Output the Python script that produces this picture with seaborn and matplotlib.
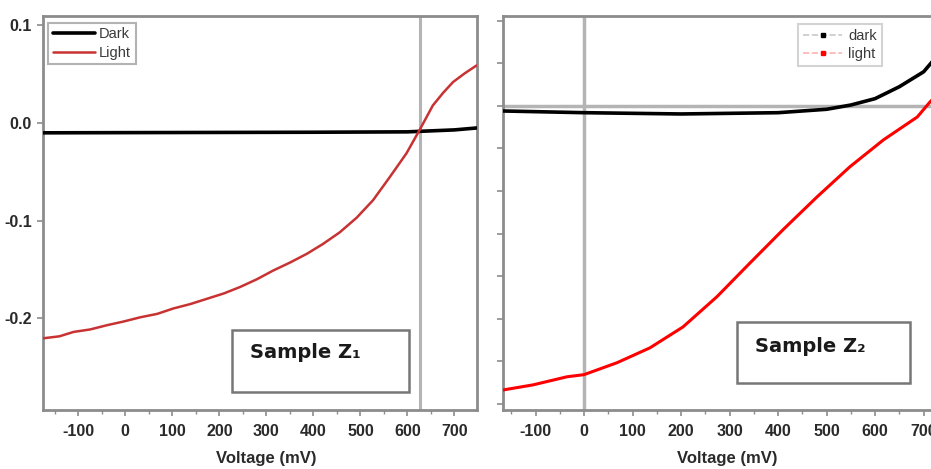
import matplotlib
matplotlib.use("Agg")
import matplotlib.pyplot as plt
from matplotlib.lines import Line2D
from matplotlib.patches import Rectangle
from matplotlib.ticker import MultipleLocator
import seaborn as sns
import pandas as pd

sns.set_style("white")
plt.rcParams['font.family'] = ['Liberation Sans', 'DejaVu Sans']
plt.rcParams['axes.unicode_minus'] = False

# ---- Sample Z1 (left panel) ----
z1_dark_v = [-175, 0, 200, 400, 600, 700, 748]
z1_dark_i = [-0.010, -0.0098, -0.0096, -0.0094, -0.009, -0.007, -0.005]
z1_light_v = [-174, -140, -110, -75, -38, -5, 32, 68, 102, 138, 174, 210, 244, 280,
              315, 350, 386, 420, 456, 492, 527, 563, 598, 626, 654, 676, 697, 722, 747]
z1_light_i = [-0.2205, -0.2185, -0.214, -0.2115, -0.207, -0.2035, -0.199, -0.1955, -0.190,
              -0.1855, -0.180, -0.1745, -0.168, -0.160, -0.151, -0.143, -0.134, -0.124,
              -0.112, -0.097, -0.079, -0.055, -0.031, -0.007, 0.018, 0.031, 0.042, 0.051, 0.059]
z1_voc = 626

# ---- Sample Z2 (right panel, unlabelled current axis) ----
z2_dark_v = [-167, 0, 200, 400, 500, 550, 600, 650, 700, 715, 740]
z2_dark_i = [-0.12, -0.16, -0.19, -0.16, -0.08, 0.02, 0.17, 0.45, 0.80, 1.00, 1.35]
z2_light_v = [-167, -105, -35, 0, 68, 136, 204, 274, 342, 410, 480, 548, 617, 687, 713, 740]
z2_light_i = [-6.67, -6.55, -6.36, -6.31, -6.03, -5.68, -5.19, -4.48, -3.69, -2.91,
              -2.14, -1.43, -0.80, -0.26, 0.09, 0.40]

x_ticks = [-100, 0, 100, 200, 300, 400, 500, 600, 700]
z1_yticks = [0.1, 0.0, -0.1, -0.2]
z1_ytick_labels = ["0.1", "0.0", "-0.1", "-0.2"]
z2_yticks = [-7, -6, -5, -4, -3, -2, -1, 0, 1, 2]

W, H = 931, 469
fig = plt.figure(figsize=(W / 100, H / 100), dpi=100)
ax1 = fig.add_axes([43 / W, (H - 410) / H, 434 / W, 394 / H])
ax2 = fig.add_axes([503 / W, (H - 410) / H, 457 / W, 394 / H])

spine_col = "#8c8c8c"
grid_col = "#b4b4b4"
tick_kw = dict(labelsize=11.5, colors=spine_col, labelcolor="#2a2a2a", direction="out")

# left panel
d1 = pd.DataFrame({"v": z1_dark_v, "i": z1_dark_i})
l1 = pd.DataFrame({"v": z1_light_v, "i": z1_light_i})
ax1.axvline(z1_voc, color=grid_col, lw=2.2, zorder=1)
sns.lineplot(data=d1, x="v", y="i", ax=ax1, color="black", lw=2.6, label="Dark", zorder=3)
sns.lineplot(data=l1, x="v", y="i", ax=ax1, color="#c83232", lw=1.8, label="Light", zorder=3)
ax1.set_xlim(-175, 748)
ax1.set_ylim(-0.294, 0.1097)
ax1.set_xticks(x_ticks)
ax1.xaxis.set_minor_locator(MultipleLocator(50))
ax1.set_yticks(z1_yticks)
ax1.set_yticklabels(z1_ytick_labels)
ax1.set_xlabel("Voltage (mV)", fontsize=12, fontweight="bold", color="#2a2a2a")
ax1.xaxis.set_label_coords(0.514, -0.104)
ax1.set_ylabel("")
leg1 = ax1.legend(loc="upper left", bbox_to_anchor=(0.012, 0.982), fontsize=10.5,
                  frameon=True, fancybox=False, edgecolor="#a0a0a0", handlelength=2.9,
                  borderpad=0.3, labelspacing=0.3, handletextpad=0.3, borderaxespad=0)
leg1.get_frame().set_linewidth(1.5)
for t in leg1.get_texts():
    t.set_color("#3a3a3a")
ax1.add_patch(Rectangle((0.435, 0.046), 0.408, 0.157, transform=ax1.transAxes,
                        fill=True, facecolor="white", edgecolor="#777777", lw=1.8, zorder=4))
ax1.text(0.477, 0.147, "Sample Z\u2081", transform=ax1.transAxes, fontsize=14,
         fontweight="bold", color="#1a1a1a", va="center", ha="left", zorder=5,
         family=["DejaVu Sans"])

# right panel
d2 = pd.DataFrame({"v": z2_dark_v, "i": z2_dark_i})
l2 = pd.DataFrame({"v": z2_light_v, "i": z2_light_i})
ax2.axvline(0, color=grid_col, lw=2.5, zorder=1)
ax2.axhline(0, color=grid_col, lw=2.5, zorder=1)
sns.lineplot(data=d2, x="v", y="i", ax=ax2, color="black", lw=2.6, legend=False, zorder=3)
sns.lineplot(data=l2, x="v", y="i", ax=ax2, color="#ff0000", lw=2.2, legend=False, zorder=3)
ax2.set_xlim(-167, 775)
ax2.set_ylim(-7.14, 2.11)
ax2.set_xticks(x_ticks)
ax2.xaxis.set_minor_locator(MultipleLocator(50))
ax2.set_yticks(z2_yticks)
ax2.set_yticklabels([])
ax2.set_xlabel("Voltage (mV)", fontsize=12, fontweight="bold", color="#2a2a2a")
ax2.xaxis.set_label_coords(0.49, -0.104)
ax2.set_ylabel("")
handles = [
    Line2D([], [], color="#c8c8c8", ls="--", lw=1.2, marker="s", markersize=3,
           markerfacecolor="black", markeredgecolor="black"),
    Line2D([], [], color="#ffb0b0", ls="--", lw=1.2, marker="s", markersize=3,
           markerfacecolor="red", markeredgecolor="red"),
]
leg2 = ax2.legend(handles, ["dark", "light"], loc="upper right", bbox_to_anchor=(0.829, 0.98),
                  fontsize=10.5, frameon=True, fancybox=False, edgecolor="#c8c8c8",
                  handlelength=2.7, borderpad=0.35, labelspacing=0.3, handletextpad=0.4,
                  borderaxespad=0)
leg2.get_frame().set_linewidth(1.5)
for t in leg2.get_texts():
    t.set_color("#3a3a3a")
ax2.add_patch(Rectangle((0.512, 0.0685), 0.379, 0.155, transform=ax2.transAxes,
                        fill=True, facecolor="white", edgecolor="#777777", lw=1.8, zorder=4))
ax2.text(0.551, 0.16, "Sample Z\u2082", transform=ax2.transAxes, fontsize=14,
         fontweight="bold", color="#1a1a1a", va="center", ha="left", zorder=5,
         family=["DejaVu Sans"])

for ax in (ax1, ax2):
    for s in ax.spines.values():
        s.set_color(spine_col)
        s.set_linewidth(2)
        s.set_visible(True)
    ax.tick_params(axis="both", which="major", length=4, width=1.2, **tick_kw)
    ax.tick_params(axis="x", which="major", pad=6, bottom=True)
    ax.tick_params(axis="x", which="minor", length=3, width=1.0, colors=spine_col, bottom=True)
    ax.tick_params(axis="y", which="major", left=True, pad=4)
    for lab in ax.get_xticklabels() + ax.get_yticklabels():
        lab.set_fontweight("bold")

fig.savefig("out.png", dpi=100)
